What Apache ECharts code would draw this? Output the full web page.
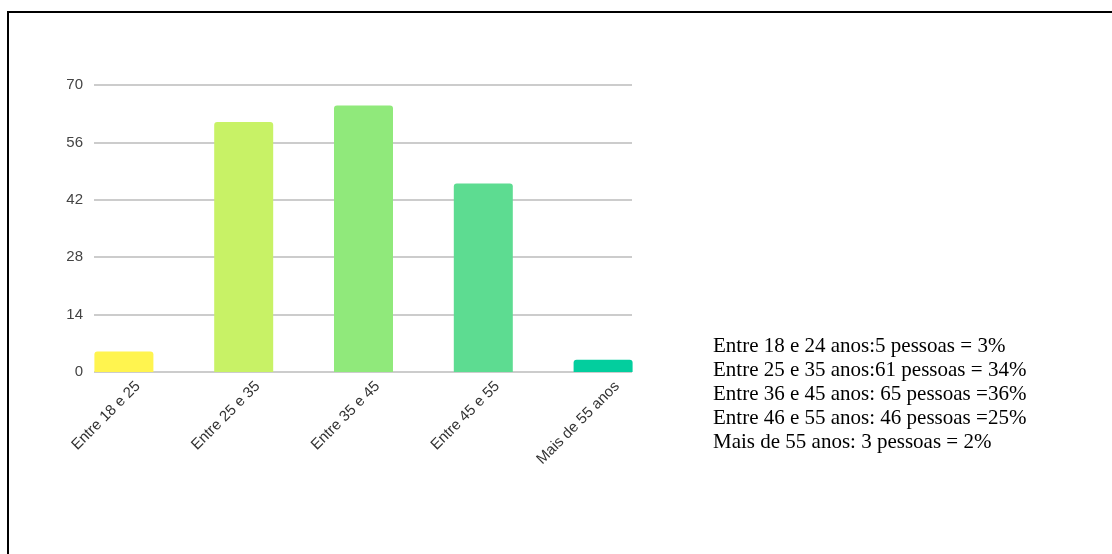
<!DOCTYPE html>
<html>
<head>
<meta charset="utf-8">
<script src="https://cdn.jsdelivr.net/npm/echarts@6/dist/echarts.min.js"></script>
<style>
  html, body { margin: 0; padding: 0; background: #fff; }
  #main { width: 1112px; height: 554px; }
  #frame {
    position: absolute; left: 7px; top: 11px; right: -10px; bottom: -10px;
    border-left: 2px solid #000; border-top: 2px solid #000;
    pointer-events: none;
  }
</style>
</head>
<body>
<div id="main"></div>
<div id="frame"></div>
<script>
// faixas etarias
const categories = ['Entre 18 e 25', 'Entre 25 e 35', 'Entre 35 e 45', 'Entre 45 e 55', 'Mais de 55 anos'];
const values = [5, 61, 65, 46, 3];
const barColors = ['#fff44f', '#c8f266', '#90e97b', '#5ddc91', '#03ce9e'];
const yTicks = [0, 14, 28, 42, 56, 70];
const notes = [
  'Entre 18 e 24 anos:5 pessoas = 3%',
  'Entre 25 e 35 anos:61 pessoas = 34%',
  'Entre 36 e 45 anos: 65 pessoas =36%',
  'Entre 46 e 55 anos: 46 pessoas =25%',
  'Mais de 55 anos: 3 pessoas = 2%'
];

const myChart = echarts.init(document.getElementById('main'));

const yBase = {
  type: 'value',
  min: yTicks[0],
  max: yTicks[yTicks.length - 1],
  interval: yTicks[1] - yTicks[0]
};

const option = {
  animation: false,
  grid: [
    // grade das linhas horizontais
    { left: 94, right: 480, top: 85, bottom: 182 },
    // barras
    { left: 64, right: 449, top: 85, bottom: 182 },
    // rotulos do eixo x
    { left: 78, right: 435, top: 85, bottom: 182 }
  ],
  xAxis: [
    { gridIndex: 0, type: 'category', data: categories, show: false },
    { gridIndex: 1, type: 'category', data: categories, show: false },
    {
      gridIndex: 2, type: 'category', data: categories,
      axisLine: { show: false }, axisTick: { show: false },
      axisLabel: {
        rotate: 45, margin: 12, interval: 0,
        color: '#333', fontSize: 15, fontFamily: 'Liberation Sans, Arial, sans-serif'
      }
    }
  ],
  yAxis: [
    Object.assign({}, yBase, {
      gridIndex: 0,
      axisLine: { show: false }, axisTick: { show: false },
      axisLabel: { margin: 11, color: '#444', fontSize: 15, fontFamily: 'Liberation Sans, Arial, sans-serif' },
      splitLine: { lineStyle: { color: '#cccccc', width: 2 } }
    }),
    Object.assign({}, yBase, { gridIndex: 1, show: false }),
    Object.assign({}, yBase, { gridIndex: 2, show: false })
  ],
  series: [
    {
      type: 'bar',
      xAxisIndex: 1,
      yAxisIndex: 1,
      barWidth: 59,
      data: values.map((v, i) => ({
        value: v,
        itemStyle: { color: barColors[i], borderRadius: [3, 3, 0, 0] }
      }))
    }
  ],
  graphic: notes.map((t, i) => ({
    type: 'text',
    left: 713,
    top: 336 + i * 24,
    style: {
      text: t,
      fill: '#000',
      font: '21px "Liberation Serif", "Times New Roman", serif'
    }
  }))
};

myChart.setOption(option);
</script>
</body>
</html>
